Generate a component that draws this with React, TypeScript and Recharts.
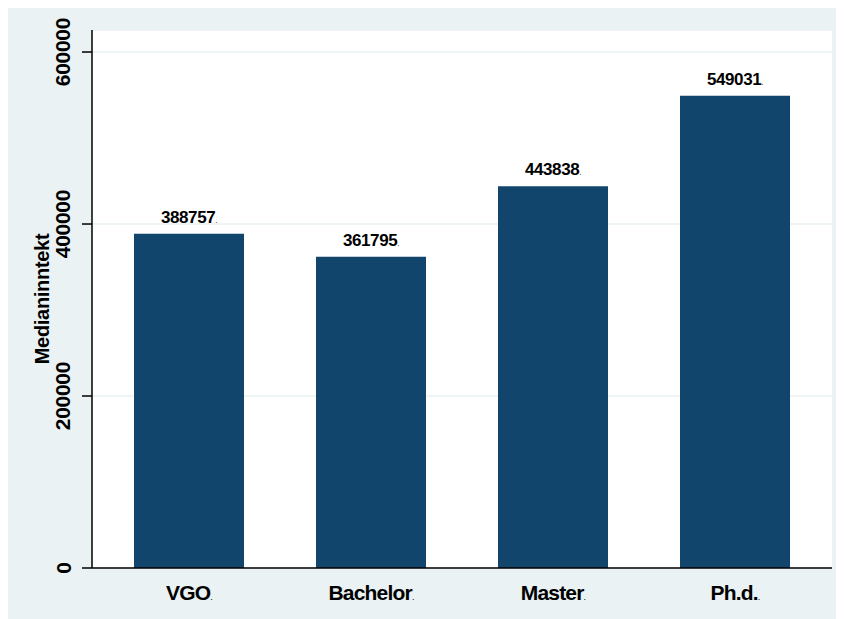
import { BarChart, Bar, XAxis, YAxis, CartesianGrid, LabelList } from 'recharts'

const categories = ['VGO', 'Bachelor', 'Master', 'Ph.d.']
const medianIncome = [388757, 361795, 443838, 549031]
const yTicks = [0, 200000, 400000, 600000]

const data = categories.map((name, i) => ({ name, value: medianIncome[i] }))

const FONT = '"Liberation Sans", Arial, Helvetica, sans-serif'
const BG = '#EAF2F3'
const NAVY = '#12456B'

const YTick = (props: any) => {
  const { y, payload } = props
  return (
    <text
      x={55}
      y={y}
      transform={`rotate(-90 55 ${y})`}
      textAnchor="middle"
      dominantBaseline="central"
      fontFamily={FONT}
      fontWeight="bold"
      fontSize={21}
      letterSpacing={-0.3}
      fill="#000"
    >
      {payload.value}
    </text>
  )
}

const XTick = (props: any) => {
  const { x, y, payload } = props
  return (
    <text x={x} y={y + 24} textAnchor="middle" fontFamily={FONT} fontWeight="bold" fontSize={21} letterSpacing={-0.8} fill="#000">
      {payload.value}
      <tspan fontSize={9} fontWeight="normal">.</tspan>
    </text>
  )
}

const ValueLabel = (props: any) => {
  const { x, y, width, value } = props
  return (
    <text x={x + width / 2} y={y - 11} textAnchor="middle" fontFamily={FONT} fontWeight="bold" fontSize={17} letterSpacing={-0.4} fill="#000">
      {value}
      <tspan fontSize={8} fontWeight="normal">.</tspan>
    </text>
  )
}

const YTitle = (props: any) => {
  const { viewBox } = props
  const cy = viewBox.y + viewBox.height / 2
  return (
    <text
      x={33.5}
      y={cy}
      transform={`rotate(-90 33.5 ${cy})`}
      textAnchor="middle"
      dominantBaseline="central"
      fontFamily={FONT}
      fontWeight="bold"
      fontSize={20}
      letterSpacing={-0.3}
      fill="#000"
    >
      Medianinntekt
    </text>
  )
}

export default function App() {
  return (
    <div style={{ width: 836, height: 611, background: BG }}>
      <BarChart width={836} height={611} data={data} margin={{ top: 22, right: 12, bottom: 0, left: 0 }}>
        <CartesianGrid vertical={false} stroke={BG} strokeWidth={1.5} fill="#fff" />
        <XAxis
          dataKey="name"
          height={51}
          padding={{ left: 6, right: 6 }}
          axisLine={{ stroke: '#000', strokeWidth: 1.5 }}
          tickLine={false}
          tick={<XTick />}
          interval={0}
        />
        <YAxis
          width={84}
          domain={[0, 625600]}
          ticks={yTicks}
          allowDataOverflow
          axisLine={{ stroke: '#000', strokeWidth: 1.5 }}
          tickLine={{ stroke: '#000', strokeWidth: 1.5 }}
          tickSize={10}
          tick={<YTick />}
          label={<YTitle />}
        />
        <Bar dataKey="value" fill={NAVY} barSize={110} isAnimationActive={false}>
          <LabelList dataKey="value" content={<ValueLabel />} />
        </Bar>
      </BarChart>
    </div>
  )
}
